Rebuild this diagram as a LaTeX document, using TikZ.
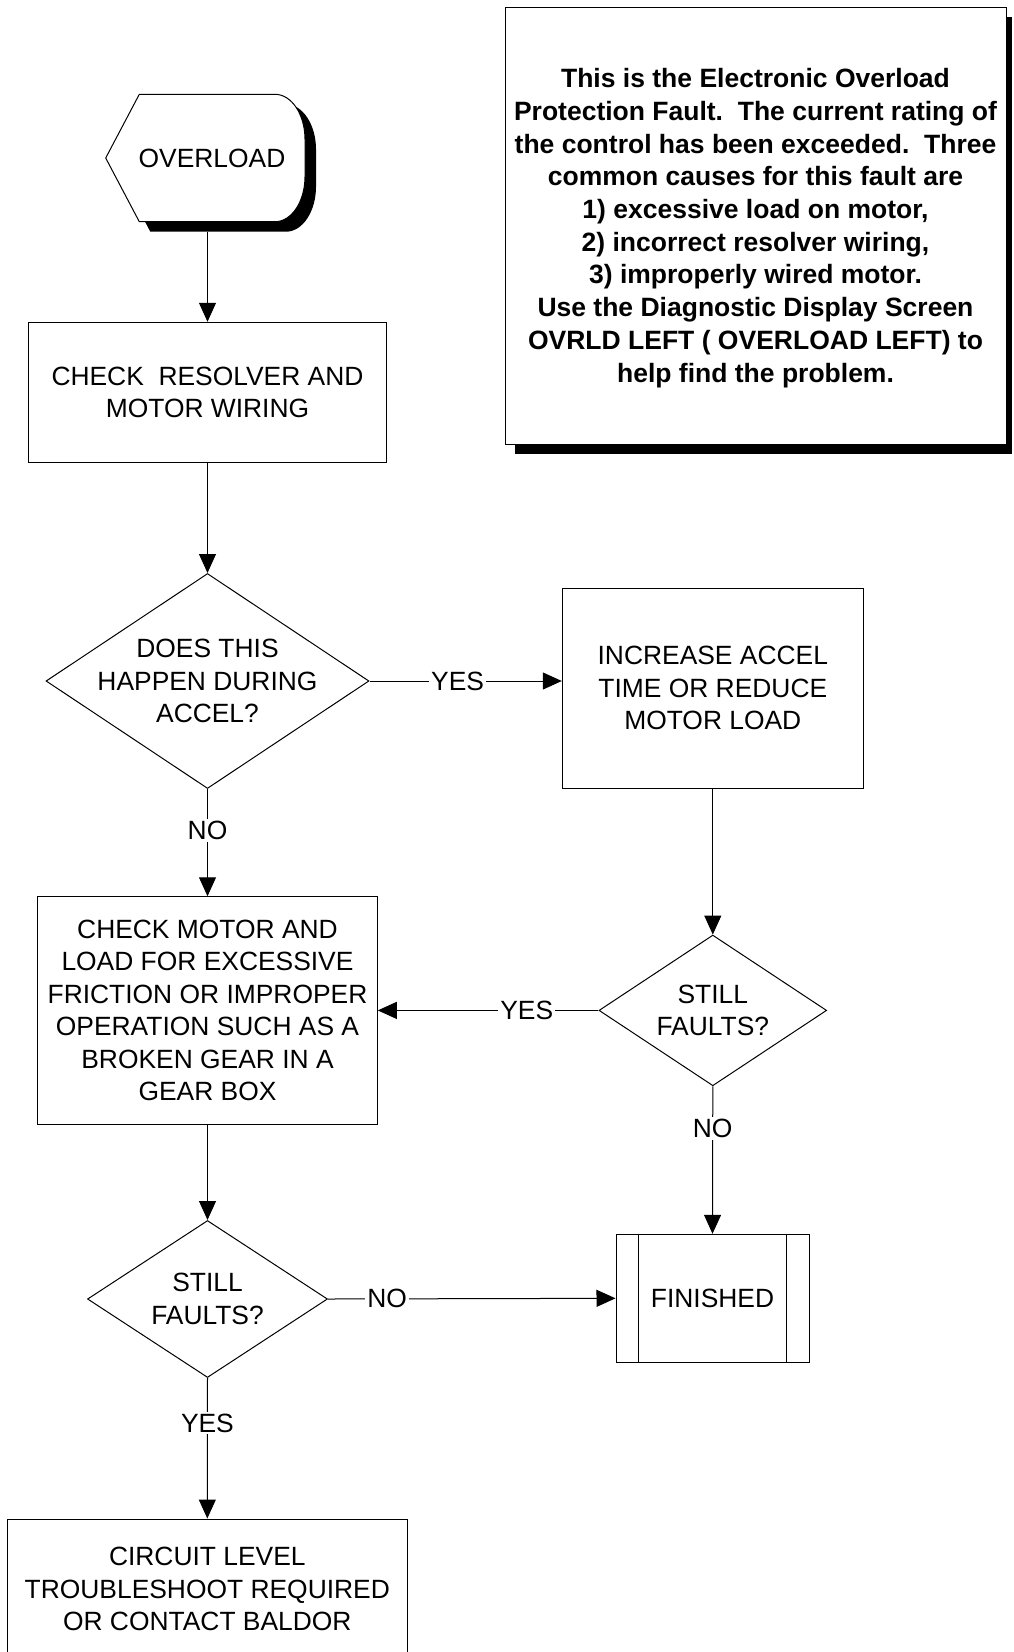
\documentclass[tikz,border=0pt]{standalone}
\usepackage{fontspec}
\setmainfont{Liberation Sans}
\usetikzlibrary{arrows.meta,shapes.geometric}
\tikzset{
  base/.style={font=\fontsize{26.4}{32.5}\selectfont},
  box/.style={draw, line width=1pt, fill=white, rectangle, inner sep=0pt, align=center, base},
  dia/.style={draw, line width=1pt, fill=white, diamond, inner sep=0pt},
  txt/.style={align=center, inner sep=0pt, base},
  conn/.style={draw, line width=1pt, -{Triangle[length=19pt,width=17pt]}},
  lbl/.style={fill=white, inner sep=2pt, base},
}
\newcommand{\ovshape}[1]{\path[#1] (139.3,94.3) -- (275,94.3) .. controls (291.6,94.3) and (305,114.5) .. (305,139.3) -- (305,176.7) .. controls (305,201.5) and (291.6,221.7) .. (275,221.7) -- (139.3,221.7) -- (105.7,158) -- cycle;}
\begin{document}
\begin{tikzpicture}[x=1pt,y=-1pt]
\fill[white] (0,0) rectangle (1013,1652);
\useasboundingbox (0,0) rectangle (1013,1652);

% note box with shadow
\fill[black] (515,17) rectangle (1012,454);
\node[draw, line width=1pt, fill=white, minimum width=501pt, minimum height=437pt, inner sep=0pt] (note) at (755.5,225.8) {};
\node[align=center, inner sep=0pt, font=\bfseries\fontsize{26.5}{32.7}\selectfont] (notet) at (755.5,228) {This is the Electronic Overload\\Protection Fault.\ \ The current rating of\\the control has been exceeded.\ \ Three\\common causes for this fault are\\1) excessive load on motor,\\2) incorrect resolver wiring,\\3) improperly wired motor.\\Use the Diagnostic Display Screen\\OVRLD LEFT ( OVERLOAD LEFT) to\\help find the problem.};

% OVERLOAD terminator with shadow
\ovshape{fill=black, shift={(11,10)}}
\ovshape{draw, line width=1pt, fill=white}
\node[txt] (ov) at (212,158) {OVERLOAD};
\coordinate (ovb) at (207.5,231.7);

% boxes and decisions
\node[box, minimum width=357.4pt, minimum height=140.4pt] (r1) at (207.5,392.5) {CHECK\ \ RESOLVER AND\\MOTOR WIRING};

\node[dia, minimum width=323pt, minimum height=215pt] (d1) at (207.5,681) {};
\node[txt] (d1t) at (d1) {DOES THIS\\HAPPEN DURING\\ACCEL?};

\node[box, minimum width=301pt, minimum height=200pt] (r2) at (712.8,688.3) {INCREASE ACCEL\\TIME OR REDUCE\\MOTOR LOAD};

\node[dia, minimum width=227.7pt, minimum height=150.7pt] (d2) at (712.8,1010.4) {};
\node[txt] (d2t) at (d2) {STILL\\FAULTS?};

\node[box, minimum width=339.6pt, minimum height=227.3pt] (r3) at (207.5,1010.4) {CHECK MOTOR AND\\LOAD FOR EXCESSIVE\\FRICTION OR IMPROPER\\OPERATION SUCH AS A\\BROKEN GEAR IN A\\GEAR BOX};

\node[box, minimum width=193pt, minimum height=128pt] (fin) at (712.5,1298.3) {FINISHED};
\draw[line width=1pt] ([xshift=23.3pt]fin.north west) -- ([xshift=23.3pt]fin.south west);
\draw[line width=1pt] ([xshift=-23pt]fin.north east) -- ([xshift=-23pt]fin.south east);

\node[dia, minimum width=240pt, minimum height=157pt] (d3) at (207.5,1299) {};
\node[txt] (d3t) at (d3) {STILL\\FAULTS?};

\node[box, minimum width=400pt, minimum height=140pt] (r4) at (207.3,1589) {CIRCUIT LEVEL\\TROUBLESHOOT REQUIRED\\OR CONTACT BALDOR};

% connectors
\draw[conn] (ovb) -- (r1.north);
\draw[conn] (r1.south) -- (d1.north);
\draw[conn] (d1.east) -- node[lbl, pos=0.458] {YES} (d1.east -| r2.west);
\draw[conn] (d1.south) -- node[lbl, pos=0.39] {NO} (r3.north);
\draw[conn] (r2.south) -- (d2.north);
\draw[conn] (d2.west) -- node[lbl, pos=0.325] {YES} (r3.east);
\draw[conn] (d2.south) -- node[lbl, pos=0.287] {NO} (fin.north);
\draw[conn] (r3.south) -- (d3.north);
\draw[conn] (d3.east) -- node[lbl, pos=0.206] {NO} (fin.west);
\draw[conn] (d3.south) -- node[lbl, pos=0.32] {YES} (r4.north);
\end{tikzpicture}
\end{document}
